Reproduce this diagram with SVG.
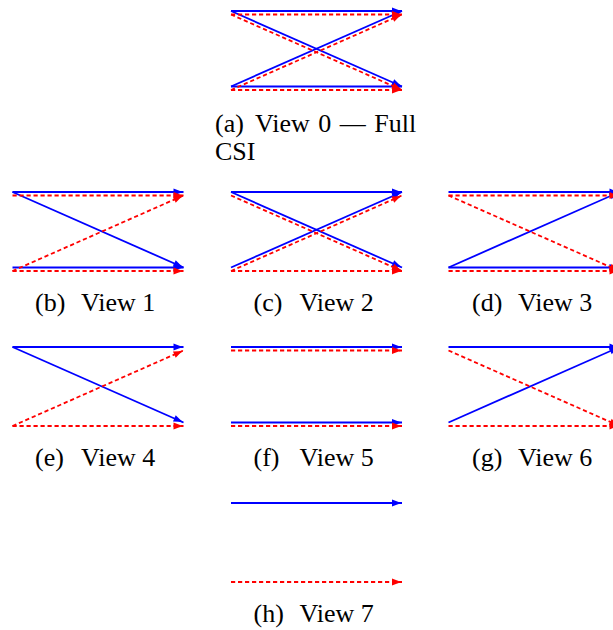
<svg xmlns="http://www.w3.org/2000/svg" xmlns:xlink="http://www.w3.org/1999/xlink" width="613" height="630" viewBox="0 0 613 630">
<style>
.b{stroke:#0000ff;stroke-width:1.8;fill:none;marker-end:url(#ab)}
.r{stroke:#ff0000;stroke-width:1.8;fill:none;stroke-dasharray:4.2 2.8;marker-end:url(#ar)}
.cap{font-family:"Liberation Serif","Times New Roman",serif;font-size:26px;fill:#000}
</style>
<defs>
<marker id="ab" markerUnits="userSpaceOnUse" markerWidth="13" markerHeight="10" viewBox="-1 -5 13 10" refX="10" refY="0" orient="auto">
<path d="M0,-3.4 Q5.5,-1.1 10,0 Q5.5,1.1 0,3.4 Z" fill="#0000ff"/>
</marker>
<marker id="ar" markerUnits="userSpaceOnUse" markerWidth="13" markerHeight="10" viewBox="-1 -5 13 10" refX="10" refY="0" orient="auto">
<path d="M0,-3.4 Q5.5,-1.1 10,0 Q5.5,1.1 0,3.4 Z" fill="#ff0000"/>
</marker>
<line id="bTT" class="b" x1="0" y1="0" x2="171" y2="0"/>
<line id="bTB" class="b" x1="0" y1="0" x2="171" y2="75.5"/>
<line id="bBT" class="b" x1="0" y1="75.5" x2="171" y2="0"/>
<line id="bBB" class="b" x1="0" y1="75.5" x2="171" y2="75.5"/>
<line id="rTT" class="r" x1="0" y1="3.5" x2="171" y2="3.5"/>
<line id="rTB" class="r" x1="0" y1="3.5" x2="171" y2="79"/>
<line id="rBT" class="r" x1="0" y1="79" x2="171" y2="3.5"/>
<line id="rBB" class="r" x1="0" y1="79" x2="171" y2="79"/>
</defs>
<g id="connectors">
<g id="view0" transform="translate(231,11)">
<use href="#bTT"/><use href="#bTB"/><use href="#bBT"/><use href="#bBB"/>
<use href="#rTT"/><use href="#rTB"/><use href="#rBT"/><use href="#rBB"/>
</g>
<g id="view1" transform="translate(12.5,192)">
<use href="#bTT"/><use href="#bTB"/><use href="#bBB"/>
<use href="#rTT"/><use href="#rBT"/><use href="#rBB"/>
</g>
<g id="view2" transform="translate(231,192)">
<use href="#bTT"/><use href="#bTB"/><use href="#bBT"/>
<use href="#rTB"/><use href="#rBT"/><use href="#rBB"/>
</g>
<g id="view3" transform="translate(448.5,192)">
<use href="#bTT"/><use href="#bBT"/><use href="#bBB"/>
<use href="#rTT"/><use href="#rTB"/><use href="#rBB"/>
</g>
<g id="view4" transform="translate(12.5,347)">
<use href="#bTT"/><use href="#bTB"/>
<use href="#rBT"/><use href="#rBB"/>
</g>
<g id="view5" transform="translate(231,347)">
<use href="#bTT"/><use href="#bBB"/>
<use href="#rTT"/><use href="#rBB"/>
</g>
<g id="view6" transform="translate(448.5,347)">
<use href="#bTT"/><use href="#bBT"/>
<use href="#rTB"/><use href="#rBB"/>
</g>
<g id="view7" transform="translate(231,503)">
<use href="#bTT"/><use href="#rBB"/>
</g>
</g>
<g id="captions" class="cap">
<g id="cap-a"><text x="215" y="132">(a)</text><text x="255" y="132" word-spacing="2">View 0 — Full</text><text x="215" y="160">CSI</text></g>
<g id="cap-b"><text x="35" y="311">(b)</text><text x="81" y="311">View 1</text></g>
<g id="cap-c"><text x="253.5" y="311">(c)</text><text x="299.5" y="311">View 2</text></g>
<g id="cap-d"><text x="472" y="311">(d)</text><text x="518" y="311">View 3</text></g>
<g id="cap-e"><text x="35" y="466">(e)</text><text x="81" y="466">View 4</text></g>
<g id="cap-f"><text x="253.5" y="466">(f)</text><text x="299.5" y="466">View 5</text></g>
<g id="cap-g"><text x="472" y="466">(g)</text><text x="518" y="466">View 6</text></g>
<g id="cap-h"><text x="253.5" y="622">(h)</text><text x="299.5" y="622">View 7</text></g>
</g>
</svg>
